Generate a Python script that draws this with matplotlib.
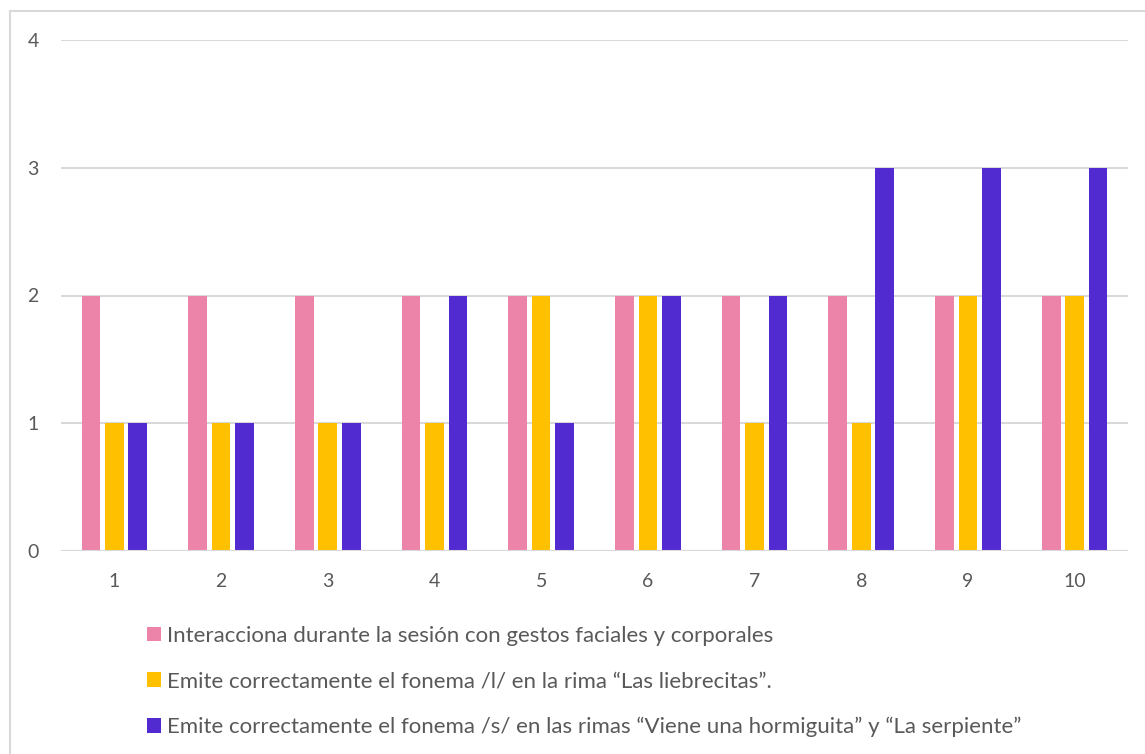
import matplotlib
matplotlib.use("Agg")
import matplotlib.pyplot as plt
import numpy as np
from matplotlib.patches import Patch
from matplotlib.lines import Line2D

categories = ["1", "2", "3", "4", "5", "6", "7", "8", "9", "10"]
series_names = [
    "Interacciona durante la sesión con gestos faciales y corporales",
    "Emite correctamente el fonema /l/ en la rima \u201cLas liebrecitas\u201d.",
    "Emite correctamente el fonema /s/ en las rimas \u201cViene una hormiguita\u201d y \u201cLa serpiente\u201d",
]
gestos = [2, 2, 2, 2, 2, 2, 2, 2, 2, 2]
fonema_l = [1, 1, 1, 1, 2, 2, 1, 1, 2, 2]
fonema_s = [1, 1, 1, 2, 1, 2, 2, 3, 3, 3]
yticks = [0, 1, 2, 3, 4]

colors = ["#EC84AA", "#FFC000", "#522BD0"]
text_color = "#595959"
font = "Lato"

W, H = 1145, 754
fig = plt.figure(figsize=(W / 100, H / 100), dpi=100)
fig.patch.set_facecolor("white")

# outer chart border (left and top edges visible)
fig.add_artist(Line2D([9.5 / W, 9.5 / W], [0, 1 - 10.5 / H], transform=fig.transFigure,
                      color="#D9D9D9", lw=1.5))
fig.add_artist(Line2D([9.5 / W, 1], [1 - 10.5 / H, 1 - 10.5 / H], transform=fig.transFigure,
                      color="#D9D9D9", lw=1.5))

left, right = 61 / W, 1128 / W
bottom, top = 1 - 551 / H, 1 - 40 / H
ax = fig.add_axes([left, bottom, right - left, top - bottom])

x = np.arange(len(categories))
bw = 0.175
off = 0.22
data = [gestos, fonema_l, fonema_s]
for i, (vals, c) in enumerate(zip(data, colors)):
    ax.bar(x + (i - 1) * off, vals, width=bw, color=c, zorder=3, label=series_names[i])

ax.set_xlim(-0.5, len(categories) - 0.5)
ax.set_ylim(0, 4)
ax.set_yticks(yticks)
ax.set_xticks(x)
ax.set_xticklabels(categories)
ax.grid(axis="y", color="#D9D9D9", lw=1.5, zorder=0)
for s in ax.spines.values():
    s.set_visible(False)
ax.tick_params(length=0, colors=text_color, labelsize=14)
ax.tick_params(axis="y", pad=16)
ax.tick_params(axis="x", pad=16)
for lab in ax.get_xticklabels() + ax.get_yticklabels():
    lab.set_fontfamily(font)
ax.axhline(0, color="#D9D9D9", lw=1.5, zorder=4)

handles = [Patch(facecolor=c, edgecolor="none") for c in colors]
leg = fig.legend(handles, series_names, loc="upper left",
                 bbox_to_anchor=(138 / W, 1 - 617 / H), frameon=False,
                 prop={"family": font, "size": 16}, labelcolor=text_color,
                 handlelength=0.62, handleheight=0.62, handletextpad=0.3,
                 labelspacing=1.15, borderaxespad=0)

fig.savefig("out.png", dpi=100, facecolor="white")
